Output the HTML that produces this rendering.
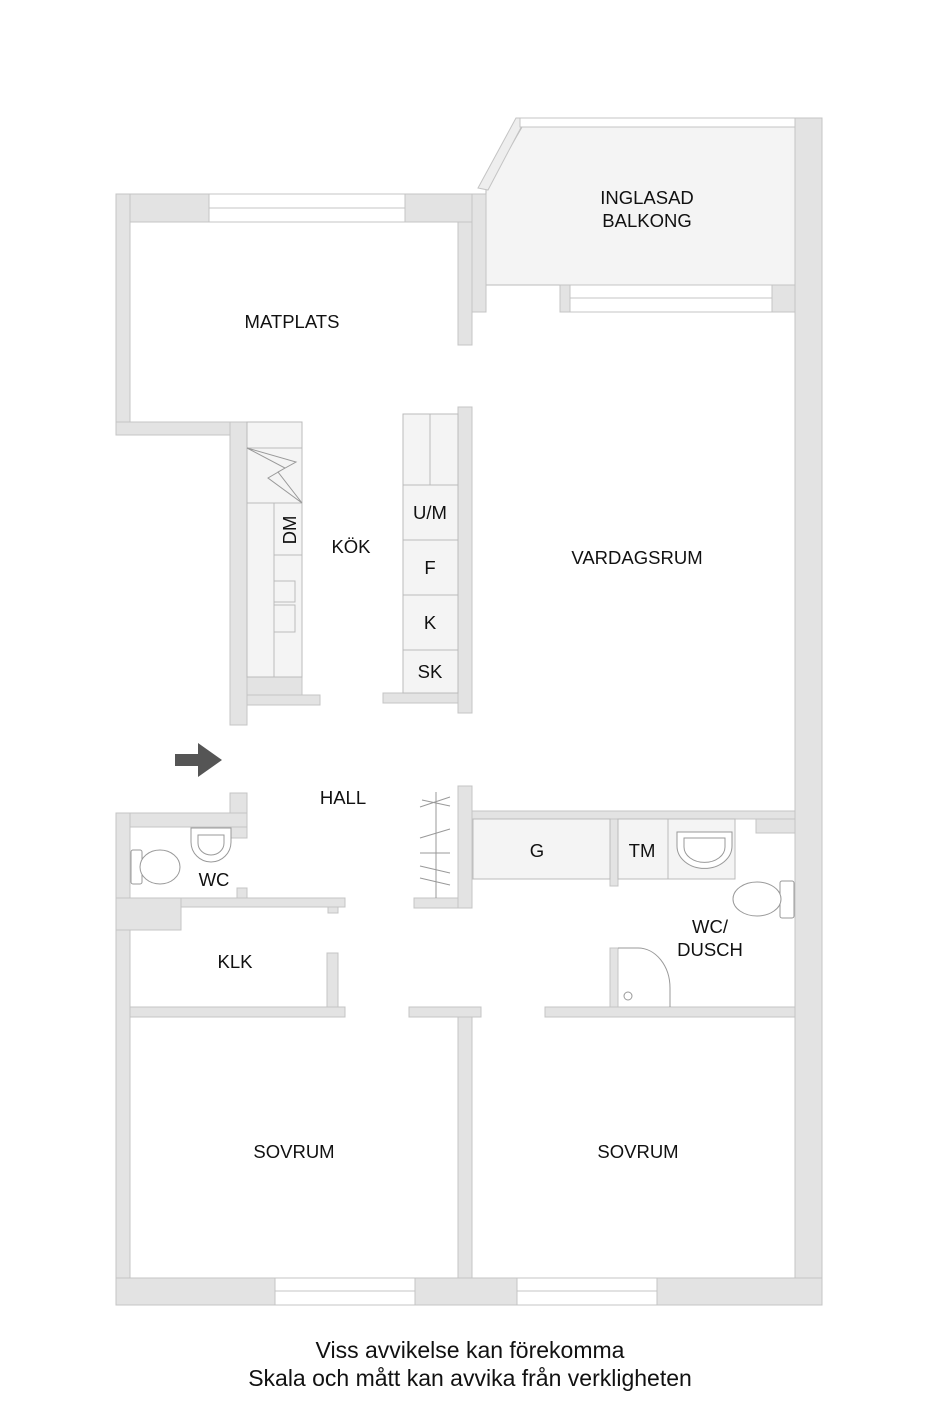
<!DOCTYPE html>
<html><head><meta charset="utf-8"><style>
html,body{margin:0;padding:0;background:#fff}
svg{display:block}
text{font-family:"Liberation Sans",sans-serif;fill:#111}
</style></head><body>
<svg width="940" height="1410" viewBox="0 0 940 1410" xmlns="http://www.w3.org/2000/svg">
<!-- balcony floor -->
<polygon points="486,190 522,127 795,127 795,285 486,285" fill="#f4f4f4" stroke="#bbb"/>
<g fill="#e3e3e3" stroke="#c4c4c4" stroke-width="1">
<polygon points="478,188 516,118 526,118 488,190" fill="#eee"/>
<rect x="520" y="118" width="275" height="9" fill="#fff"/>
<rect x="116" y="194" width="93" height="28"/>
<rect x="405" y="194" width="81" height="28"/>
<rect x="472" y="194" width="14" height="118"/>
<rect x="458" y="222" width="14" height="123"/>
<rect x="116" y="194" width="14" height="241"/>
<rect x="116" y="422" width="131" height="13"/>
<rect x="230" y="422" width="17" height="303"/>
<rect x="247" y="677" width="55" height="18"/>
<rect x="247" y="695" width="73" height="10"/>
<rect x="560" y="285" width="10" height="27"/>
<rect x="772" y="285" width="23" height="27"/>
<rect x="795" y="118" width="27" height="1187"/>
<rect x="458" y="407" width="14" height="306"/>
<rect x="383" y="693" width="75" height="10"/>
<rect x="230" y="793" width="17" height="45"/>
<rect x="116" y="813" width="131" height="14"/>
<rect x="116" y="813" width="14" height="492"/>
<rect x="138" y="898" width="207" height="9"/>
<rect x="237" y="888" width="10" height="10"/>
<rect x="328" y="907" width="10" height="6"/>
<rect x="116" y="898" width="65" height="32"/>
<rect x="130" y="1007" width="215" height="10"/>
<rect x="327" y="953" width="11" height="54"/>
<rect x="458" y="786" width="14" height="122"/>
<rect x="414" y="898" width="44" height="10"/>
<rect x="472" y="811" width="323" height="8"/>
<rect x="610" y="819" width="8" height="67"/>
<rect x="756" y="819" width="39" height="14"/>
<rect x="409" y="1007" width="72" height="10"/>
<rect x="458" y="1017" width="14" height="261"/>
<rect x="545" y="1007" width="250" height="10"/>
<rect x="610" y="948" width="8" height="59"/>
<rect x="116" y="1278" width="159" height="27"/>
<rect x="415" y="1278" width="102" height="27"/>
<rect x="657" y="1278" width="165" height="27"/>
</g>
<g fill="#fff" stroke="#c4c4c4">
<rect x="209" y="194" width="196" height="28"/><line x1="209" y1="208" x2="405" y2="208"/>
<rect x="570" y="285" width="202" height="27"/><line x1="570" y1="298" x2="772" y2="298"/>
<rect x="275" y="1278" width="140" height="27"/><line x1="275" y1="1291" x2="415" y2="1291"/>
<rect x="517" y="1278" width="140" height="27"/><line x1="517" y1="1291" x2="657" y2="1291"/>
</g>
<g fill="#f4f4f4" stroke="#bbb">
<rect x="247" y="422" width="55" height="255"/>
<line x1="247" y1="448" x2="302" y2="448"/>
<line x1="247" y1="503" x2="302" y2="503"/>
<line x1="274" y1="503" x2="274" y2="677"/>
<line x1="274" y1="555" x2="302" y2="555"/>
<rect x="274" y="581" width="21" height="21"/>
<rect x="274" y="605" width="21" height="27"/>
<polyline points="247,448 285,468 268,478 302,503 278,472 296,462 247,448" fill="none" stroke="#999"/>
<rect x="403" y="414" width="55" height="279"/>
<line x1="430" y1="414" x2="430" y2="485"/>
<line x1="403" y1="485" x2="458" y2="485"/>
<line x1="403" y1="540" x2="458" y2="540"/>
<line x1="403" y1="595" x2="458" y2="595"/>
<line x1="403" y1="650" x2="458" y2="650"/>
<rect x="473" y="819" width="137" height="60"/>
<rect x="618" y="819" width="117" height="60"/>
<line x1="668" y1="819" x2="668" y2="879"/>
</g>
<g stroke="#999" fill="none">
<line x1="436" y1="792" x2="436" y2="898"/>
<line x1="422" y1="800" x2="450" y2="806"/>
<line x1="420" y1="807" x2="450" y2="797"/>
<line x1="420" y1="838" x2="450" y2="829"/>
<line x1="420" y1="853" x2="450" y2="853"/>
<line x1="420" y1="866" x2="450" y2="873"/>
<line x1="420" y1="878" x2="450" y2="885"/>
</g>
<g fill="#fff" stroke="#999">
<path d="M191,828 h40 v14 a20,20 0 0 1 -40,0 z"/>
<path d="M198,835 h26 v8 a13,12 0 0 1 -26,0 z"/>
<rect x="131" y="850" width="11" height="34" rx="2"/>
<ellipse cx="160" cy="867" rx="20" ry="17"/>
<path d="M677,832 h55 v14 a27,22 0 0 1 -55,0 z"/>
<path d="M684,838 h41 v9 a20,15 0 0 1 -41,0 z"/>
<rect x="780" y="881" width="14" height="37" rx="2"/>
<ellipse cx="757" cy="899" rx="24" ry="17"/>
<path d="M618,948 h20 a32,40 0 0 1 32,40 v19" />
<circle cx="628" cy="996" r="4"/>
</g>
<polygon points="175,754 198,754 198,743 222,760 198,777 198,766 175,766" fill="#555"/>
<g font-size="18.5" text-anchor="middle">
<text x="647" y="204">INGLASAD</text>
<text x="647" y="227">BALKONG</text>
<text x="292" y="328">MATPLATS</text>
<text x="351" y="553">KÖK</text>
<text x="637" y="564">VARDAGSRUM</text>
<text x="430" y="519">U/M</text>
<text x="430" y="574">F</text>
<text x="430" y="629">K</text>
<text x="430" y="678">SK</text>
<text x="0" y="0" transform="translate(296,530) rotate(-90)">DM</text>
<text x="343" y="804">HALL</text>
<text x="214" y="886">WC</text>
<text x="537" y="857">G</text>
<text x="642" y="857">TM</text>
<text x="710" y="933">WC/</text>
<text x="710" y="956">DUSCH</text>
<text x="235" y="968">KLK</text>
<text x="294" y="1158">SOVRUM</text>
<text x="638" y="1158">SOVRUM</text>
</g>
<g font-size="23" text-anchor="middle">
<text x="470" y="1358">Viss avvikelse kan förekomma</text>
<text x="470" y="1386">Skala och mått kan avvika från verkligheten</text>
</g>
</svg>
</body></html>
